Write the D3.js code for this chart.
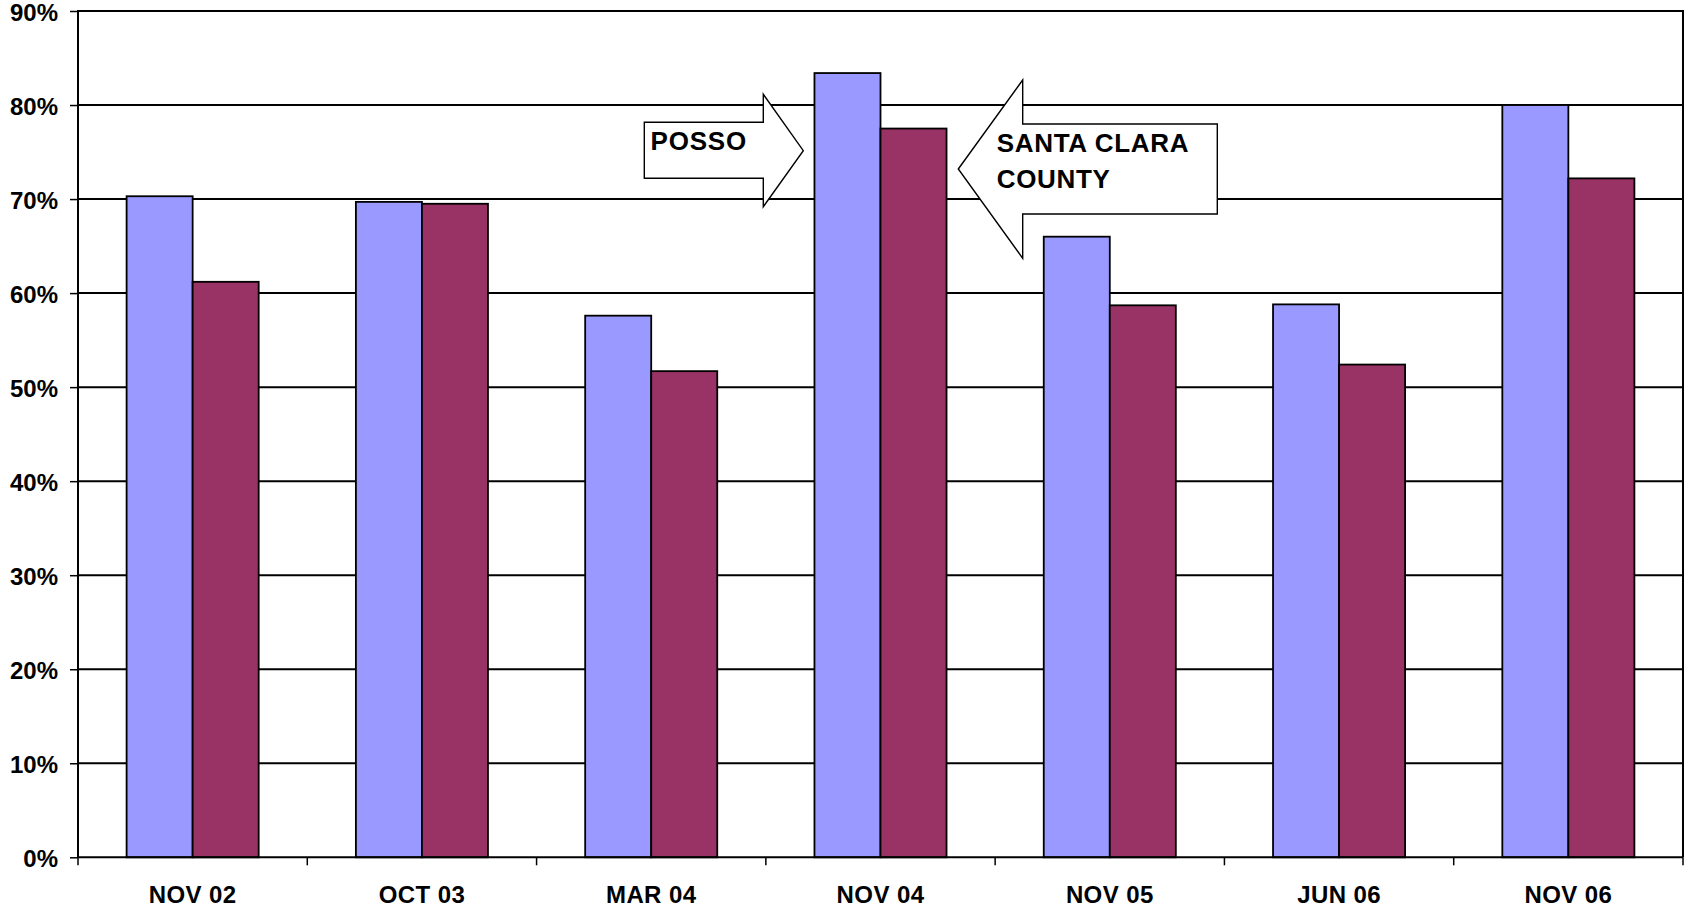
<!DOCTYPE html>
<html>
<head>
<meta charset="utf-8">
<script src="https://cdn.jsdelivr.net/npm/d3@7"></script>
<style>
  html, body { margin: 0; padding: 0; background: #fff; }
  svg { display: block; }
  text { font-family: "Liberation Sans", Arial, sans-serif; font-weight: bold; }
</style>
</head>
<body>
<svg id="chart" width="1684" height="910"></svg>
<script>
const categories = ["NOV 02", "OCT 03", "MAR 04", "NOV 04", "NOV 05", "JUN 06", "NOV 06"];
const series = ["POSSO", "SANTA CLARA COUNTY"];
const possoValues = [0.703, 0.697, 0.576, 0.834, 0.660, 0.588, 0.800];
const countyValues = [0.612, 0.695, 0.517, 0.775, 0.587, 0.524, 0.722];
const yTicks = [0, 0.1, 0.2, 0.3, 0.4, 0.5, 0.6, 0.7, 0.8, 0.9];
const colors = ["#9999FF", "#993366"];

const m = { left: 78, right: 1683, top: 11, bottom: 857.3 };
const svg = d3.select("#chart");

const x = d3.scaleBand().domain(categories).range([m.left, m.right])
  .paddingInner(0.424).paddingOuter(0.212);
const x1 = d3.scaleBand().domain(series).range([0, x.bandwidth()]);
const y = d3.scaleLinear().domain([0, 0.9]).range([m.bottom, m.top]);

// gridlines
svg.append("g").selectAll("line").data(yTicks.filter(t => t > 0 && t < 0.9)).join("line")
  .attr("x1", m.left).attr("x2", m.right)
  .attr("y1", d => y(d)).attr("y2", d => y(d))
  .attr("stroke", "#000").attr("stroke-width", 2);

// bars
const data = categories.map((c, i) => ({ cat: c, vals: [possoValues[i], countyValues[i]] }));
const g = svg.append("g").selectAll("g").data(data).join("g")
  .attr("transform", d => `translate(${x(d.cat)},0)`);
g.selectAll("rect").data(d => d.vals.map((v, j) => ({ s: series[j], v, j }))).join("rect")
  .attr("x", d => x1(d.s)).attr("width", x1.bandwidth())
  .attr("y", d => y(d.v)).attr("height", d => y(0) - y(d.v))
  .attr("fill", d => colors[d.j]).attr("stroke", "#000").attr("stroke-width", 1.8);

// plot border (left, top, right)
svg.append("path")
  .attr("d", `M${m.left},${m.bottom}V${m.top}H${m.right}V${m.bottom}`)
  .attr("fill", "none").attr("stroke", "#000").attr("stroke-width", 2);

// y axis
const yAxis = d3.axisLeft(y).tickValues(yTicks).tickFormat(d3.format(".0%")).tickSize(8).tickPadding(12);
const ya = svg.append("g").attr("transform", `translate(${m.left},0)`).call(yAxis);
ya.select(".domain").remove();
ya.selectAll("line").attr("stroke", "#000").attr("stroke-width", 1.5);
ya.selectAll("text").attr("font-size", 24).attr("fill", "#000").attr("dy", "0.4em")
  .attr("font-family", '"Liberation Sans", Arial, sans-serif').attr("font-weight", "bold");

// x axis baseline
svg.append("line").attr("x1", m.left).attr("x2", m.right).attr("y1", y(0)).attr("y2", y(0))
  .attr("stroke", "#000").attr("stroke-width", 2);
// x boundary ticks
const step = x.step();
const x0 = x(categories[0]) - step * x.paddingOuter();
svg.append("g").selectAll("line").data(d3.range(categories.length + 1)).join("line")
  .attr("x1", i => x0 + i * step).attr("x2", i => x0 + i * step)
  .attr("y1", y(0)).attr("y2", y(0) + 8)
  .attr("stroke", "#000").attr("stroke-width", 1.5);
// x labels
svg.append("g").selectAll("text").data(categories).join("text")
  .attr("x", d => x(d) + x.bandwidth() / 2).attr("y", 903)
  .attr("text-anchor", "middle").attr("font-size", 24).attr("letter-spacing", 0.4).attr("fill", "#000")
  .text(d => d);

// annotation arrows
const rightArrow = [[644.3,122.3],[763.3,122.3],[763.3,94.3],[803.3,150.7],[763.3,206.7],[763.3,178.3],[644.3,178.3]];
svg.append("polygon").attr("points", rightArrow.map(p => p.join(",")).join(" "))
  .attr("fill", "#fff").attr("stroke", "#000").attr("stroke-width", 1.4);
svg.append("text").attr("x", 650.5).attr("y", 150).attr("font-size", 26).attr("letter-spacing", 0.8)
  .text("POSSO");

const leftArrow = [[958.3,169],[1022.7,80],[1022.7,124],[1217.3,124],[1217.3,214],[1022.7,214],[1022.7,258.3]];
svg.append("polygon").attr("points", leftArrow.map(p => p.join(",")).join(" "))
  .attr("fill", "#fff").attr("stroke", "#000").attr("stroke-width", 1.4);
const t = svg.append("text").attr("font-size", 26).attr("letter-spacing", 0.7);
t.append("tspan").attr("x", 996.7).attr("y", 151.7).text("SANTA CLARA");
t.append("tspan").attr("x", 996.7).attr("y", 188.3).text("COUNTY");
</script>
</body>
</html>
